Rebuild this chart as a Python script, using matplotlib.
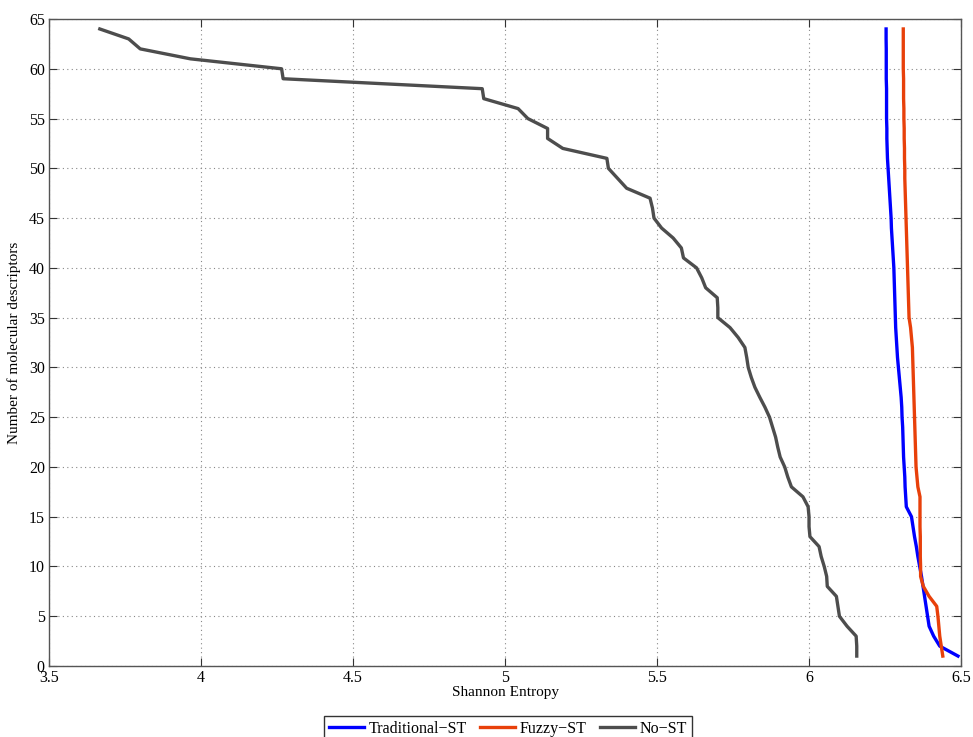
import matplotlib
matplotlib.use("Agg")
import matplotlib.pyplot as plt

plt.rcParams['font.family'] = ['Liberation Serif', 'DejaVu Serif']

descriptors = list(range(1, 65))

no_st = [6.157, 6.157, 6.155, 6.125, 6.100, 6.095, 6.090, 6.060, 6.058, 6.050,
         6.040, 6.033, 6.003, 6.000, 6.000, 5.997, 5.980, 5.942, 5.930, 5.920,
         5.905, 5.897, 5.890, 5.880, 5.870, 5.855, 5.838, 5.822, 5.810, 5.800,
         5.795, 5.789, 5.767, 5.740, 5.700, 5.700, 5.698, 5.660, 5.647, 5.630,
         5.587, 5.580, 5.553, 5.515, 5.490, 5.485, 5.477, 5.400, 5.370, 5.340,
         5.335, 5.190, 5.140, 5.140, 5.075, 5.043, 4.930, 4.925, 4.270, 4.265,
         3.965, 3.800, 3.762, 3.667]

traditional_st = [6.490, 6.430, 6.410, 6.395, 6.390, 6.385, 6.380, 6.375, 6.370, 6.364,
                  6.358, 6.353, 6.347, 6.342, 6.337, 6.320, 6.318, 6.316, 6.315, 6.313,
                  6.311, 6.310, 6.309, 6.308, 6.306, 6.305, 6.303, 6.300, 6.297, 6.294,
                  6.291, 6.289, 6.287, 6.285, 6.284, 6.283, 6.282, 6.281, 6.280, 6.279,
                  6.277, 6.275, 6.273, 6.271, 6.270, 6.268, 6.266, 6.264, 6.262, 6.260,
                  6.258, 6.257, 6.256, 6.256, 6.255, 6.255, 6.255, 6.255, 6.254, 6.254,
                  6.254, 6.254, 6.2535, 6.2535]

fuzzy_st = [6.440, 6.435, 6.430, 6.427, 6.424, 6.420, 6.395, 6.376, 6.367, 6.367,
            6.366, 6.366, 6.366, 6.365, 6.365, 6.365, 6.365, 6.358, 6.355, 6.352,
            6.351, 6.350, 6.349, 6.348, 6.347, 6.346, 6.345, 6.344, 6.343, 6.342,
            6.341, 6.340, 6.337, 6.334, 6.329, 6.328, 6.327, 6.326, 6.325, 6.324,
            6.323, 6.322, 6.321, 6.320, 6.319, 6.318, 6.317, 6.316, 6.315, 6.315,
            6.314, 6.314, 6.313, 6.313, 6.312, 6.312, 6.311, 6.311, 6.311, 6.310,
            6.310, 6.310, 6.310, 6.310]

labels = ["Traditional\u2212ST", "Fuzzy\u2212ST", "No\u2212ST"]
colors = ["#0000FF", "#E8400A", "#4D4D4D"]

xticks = [3.5, 4, 4.5, 5, 5.5, 6, 6.5]
xticklabels = ["3.5", "4", "4.5", "5", "5.5", "6", "6.5"]
yticks = list(range(0, 66, 5))

fig = plt.figure(figsize=(9.73, 7.37), dpi=100)
ax = fig.add_axes([0.0504, 0.0963, 0.9373, 0.8779])

ax.plot(traditional_st, descriptors, color=colors[0], lw=2.4, label=labels[0])
ax.plot(fuzzy_st, descriptors, color=colors[1], lw=2.4, label=labels[1])
ax.plot(no_st, descriptors, color=colors[2], lw=2.4, label=labels[2])

ax.set_xlim(3.5, 6.5)
ax.set_ylim(0, 65)
ax.set_xticks(xticks)
ax.set_xticklabels(xticklabels)
ax.set_yticks(yticks)
ax.grid(True, linestyle=(0, (1, 3)), color="#888888", linewidth=0.8)
ax.tick_params(direction='in', top=True, right=True, length=6, width=0.8,
               labelsize=11.5, colors='#333333', labelcolor='black', pad=3)
for s in ax.spines.values():
    s.set_color('#555555')
    s.set_linewidth(1.0)

ax.set_xlabel("Shannon Entropy", fontsize=11, labelpad=0)
ax.set_ylabel("Number of molecular descriptors", fontsize=11, labelpad=6)

fig.legend(loc='upper center', bbox_to_anchor=(0.522, 0.0285), ncol=3,
           fontsize=11.5, frameon=True, fancybox=False, edgecolor='#333333',
           handlelength=2.2, columnspacing=0.8, borderpad=0.3, handletextpad=0.3,
           borderaxespad=0, framealpha=1)

fig.savefig("out.png", dpi=100)
